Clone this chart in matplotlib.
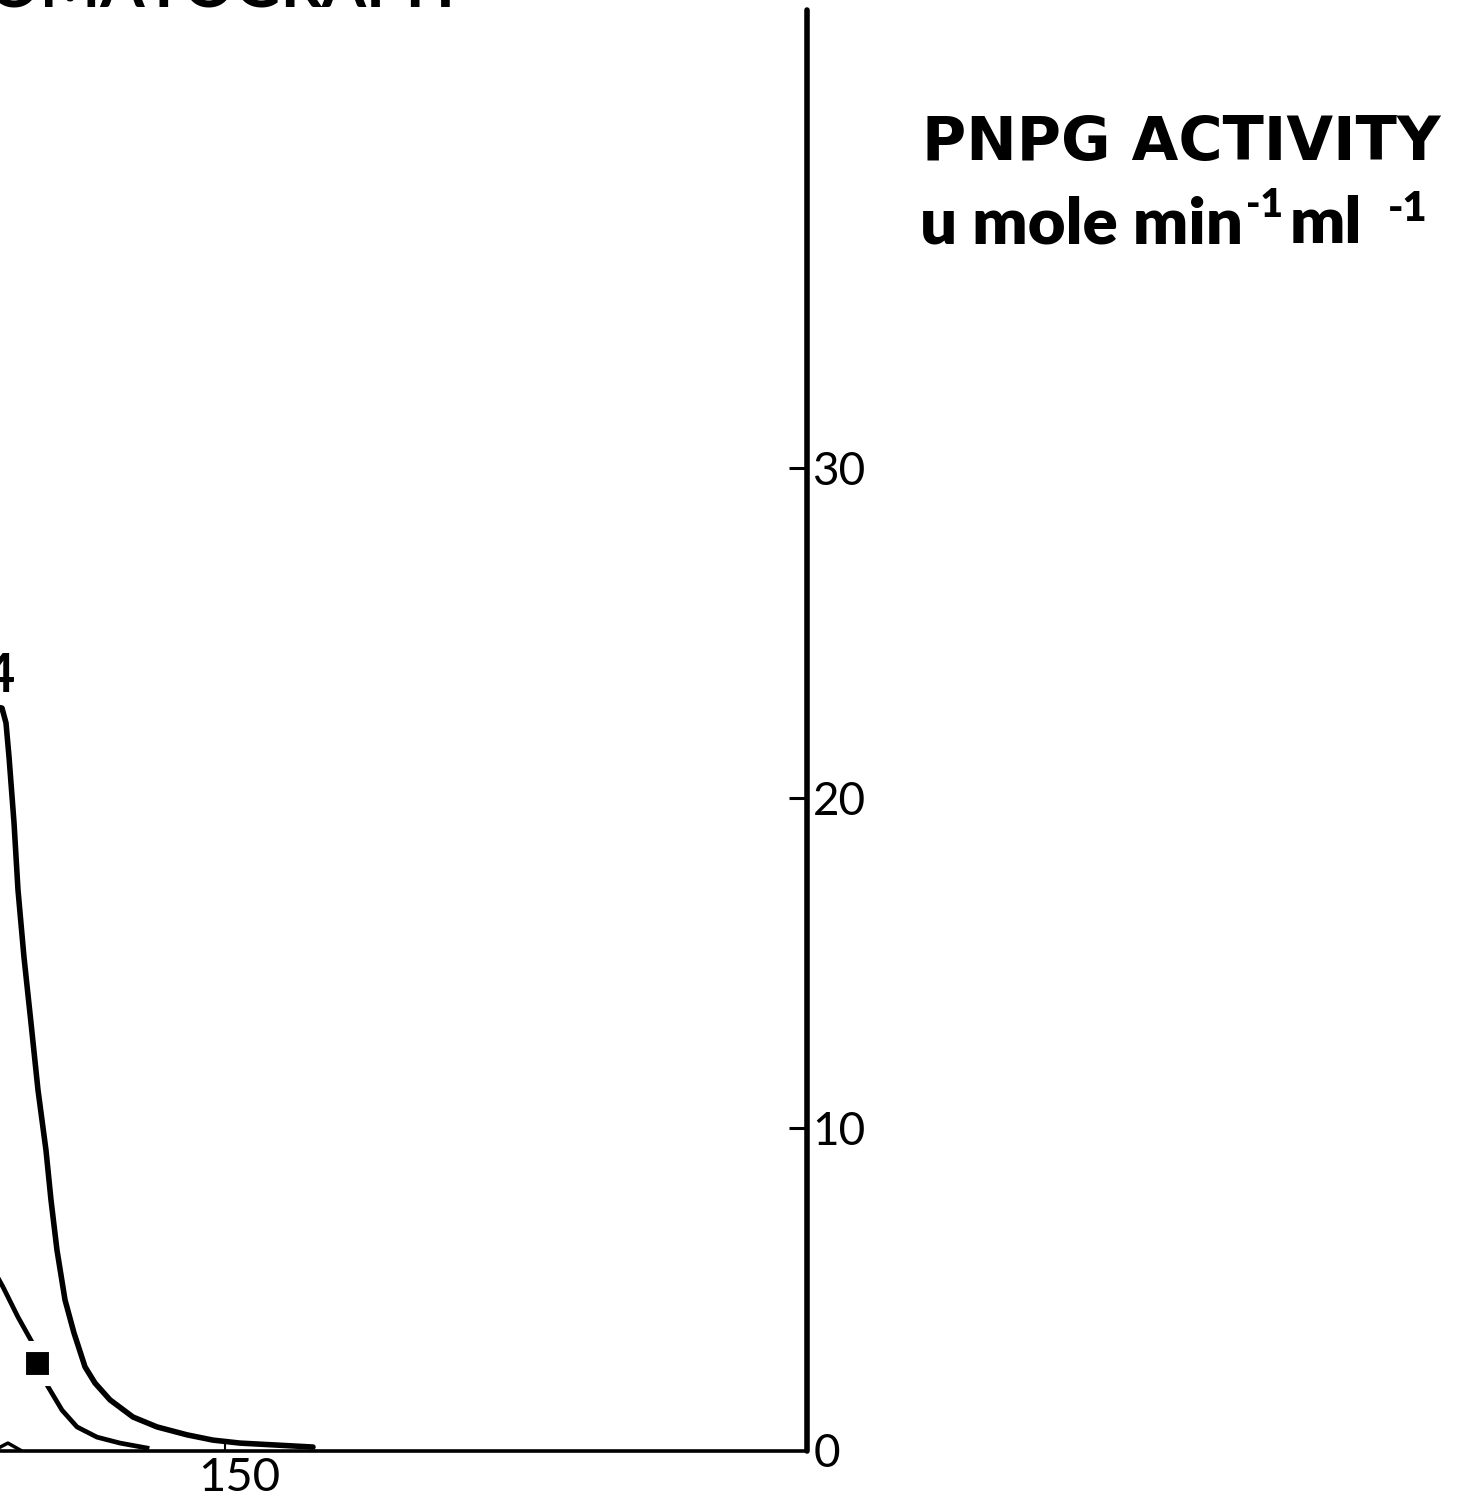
import matplotlib
matplotlib.use("Agg")
import matplotlib.pyplot as plt
import matplotlib.transforms as mtransforms

plt.rcParams['font.family'] = ['Lato', 'DejaVu Sans']

# fraction number vs activity
peak4_x = [106.19, 108.76, 111.68, 112.37, 112.89, 113.75, 114.43, 115.46, 116.67,
           117.87, 119.24, 120.10, 121.13, 122.51, 124.05, 125.95, 127.66, 130.24,
           134.19, 138.32, 143.47, 147.94, 152.58, 165.12]
peak4_y = [22.81, 22.81, 22.72, 22.27, 21.24, 19.24, 17.21, 15.17, 13.17,
           11.14, 9.32, 7.81, 6.29, 4.78, 3.78, 2.75, 2.26, 1.75,
           1.23, 0.93, 0.69, 0.53, 0.44, 0.32]

pnpg_x = [107.90, 111.86, 114.43, 116.84, 117.70, 119.42, 121.99, 124.57,
          128.01, 131.96, 136.60]
pnpg_y = [6.44, 5.17, 4.26, 3.50, 2.87, 2.20, 1.44, 0.93, 0.62, 0.44, 0.29]
pnpg_marked = [4]

bump_x = [110.4, 112.7, 114.8]
bump_y = [0.23, 0.44, 0.23]

yticks = [10, 20, 30]
xticks = [150]

W, H = 1461, 1510
fig = plt.figure(figsize=(W / 100, H / 100), dpi=100)
ax = fig.add_axes([0, (H - 1451) / H, 807 / W, (1451 - 10) / H])
ax.set_xlim(111.34, 250)
ax.set_ylim(0.2, 43.88)

ax.plot(peak4_x, peak4_y, color='black', lw=4, solid_capstyle='round',
        solid_joinstyle='round')
ax.plot(pnpg_x, pnpg_y, color='black', lw=3.4, solid_joinstyle='round')
ax.plot([pnpg_x[i] for i in pnpg_marked], [pnpg_y[i] for i in pnpg_marked],
        ls='none', marker='s', ms=24, mfc='black', mec='white', mew=8, zorder=5)
ax.plot(bump_x, bump_y, color='black', lw=2.5)

for s in ['left', 'top']:
    ax.spines[s].set_visible(False)
ax.spines['right'].set_linewidth(4)
ax.spines['bottom'].set_linewidth(2.6)
ax.spines['right'].set_capstyle('round')

ax.yaxis.tick_right()
ax.set_yticks(yticks)
ax.set_yticklabels([str(t) for t in yticks])
ax.tick_params(axis='y', direction='in', length=13, width=2.2, labelsize=33, pad=4)
ax.annotate('0', xy=(1.0, 0.1), xycoords=ax.get_yaxis_transform(),
            xytext=(5, 0), textcoords='offset points', ha='left', va='center',
            fontsize=33)

ax.set_xticks(xticks)
ax.set_xticklabels([str(t) for t in xticks])
ax.tick_params(axis='x', direction='in', length=9, width=1.5, labelsize=34, pad=4)
off = mtransforms.ScaledTranslation(0.14, 0, fig.dpi_scale_trans)
for lab in ax.get_xticklabels():
    lab.set_transform(lab.get_transform() + off)

# right hand axis title
fig.text(922 / W, 1 - 160 / H, 'PNPG ACTIVITY', fontsize=43.5, fontweight='bold',
         family='DejaVu Sans', ha='left', va='baseline')
# units line, set piece by piece like the original lettering
fig.text(920 / W, 1 - 243 / H, 'u mole min', fontsize=47, fontweight='heavy',
         ha='left', va='baseline')
fig.text(1246 / W, 1 - 217 / H, '-1', fontsize=28, fontweight='heavy',
         ha='left', va='baseline')
fig.text(1290 / W, 1 - 243 / H, 'ml', fontsize=47, fontweight='heavy',
         ha='left', va='baseline')
fig.text(1388 / W, 1 - 221 / H, '-1', fontsize=30, fontweight='heavy',
         ha='left', va='baseline')

# clipped chart title and peak number from the original page
fig.text(455 / W, 1 - 8 / H, 'CHROMATOGRAPH', fontsize=46, fontweight='bold',
         ha='right', va='baseline')
fig.text(15 / W, 1 - 692 / H, '4', fontsize=39, fontweight='bold', ha='right', va='baseline')

fig.savefig('out.png', dpi=100, facecolor='white')
